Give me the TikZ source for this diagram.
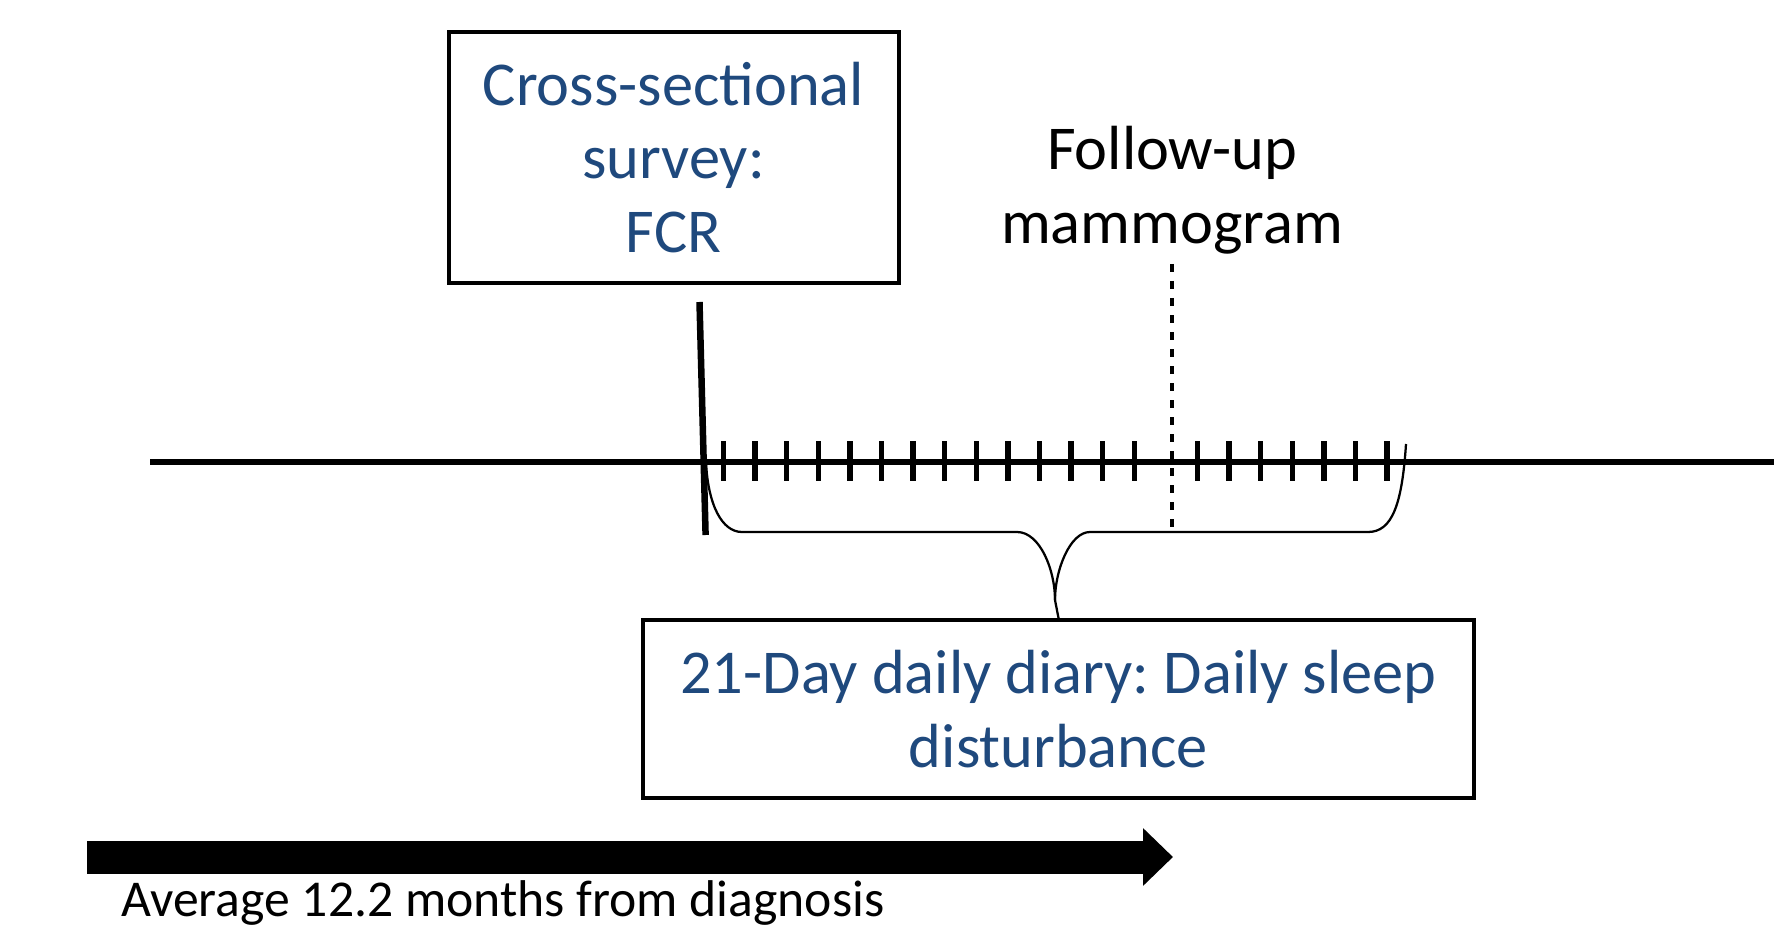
\documentclass[tikz,border=0pt]{standalone}
\usepackage{fontspec}
\setmainfont{Carlito}
\usetikzlibrary{arrows.meta}
\definecolor{textblue}{RGB}{31,73,125}
\frenchspacing

\begin{document}
\begin{tikzpicture}[x=0.2mm, y=-0.2mm,
  box/.style={rectangle, draw, line width=0.8mm, align=center, text=textblue, inner sep=0pt, font=\fontsize{35.5}{42}\selectfont},
  note/.style={align=center, inner sep=0pt, font=\fontsize{35.5}{42}\selectfont},
  timeline/.style={line width=1.3mm},
  daytick/.style={line width=1.1mm},
  visit/.style={line width=0.9mm, dash pattern=on 1.6mm off 1.8mm},
  brace/.style={line width=0.45mm, line join=round},
  timearrow/.style={line width=6.6mm, -{Triangle[length=6mm, width=11.2mm]}},
]

\useasboundingbox (0,0) rectangle (1774,941);

% === Boxes ===
\node[box, minimum width=90mm, minimum height=50.2mm] (survey) at (673.5,157.5) {%
  Cross-sectional\\survey:\\FCR};
\node[box, minimum width=166.2mm, minimum height=35.6mm] (diary) at (1058.5,709) {%
  21-Day daily diary: Daily sleep\\disturbance};
\node[note] (mammo) at (1172,190) {Follow-up\\mammogram};

% === Timeline ===
\draw[timeline] (150,462) -- (1774,462);
\draw[timeline] (699.5,302) -- (705.6,535);
\foreach \d in {0,...,13,15,16,...,21}
  \draw[daytick] ({723.5+31.6*\d},441) -- ++(0,40);
\draw[visit] (1172,264) -- (1172,527);

% === Brace ===
\draw[brace] (706,462) .. controls (708,505) and (722,532) .. (742,532) -- (1017,532)
  .. controls (1040,532) and (1055,570) .. (1055,600) -- (diary.north);
\draw[brace] (1055,600) .. controls (1055,570) and (1070,532) .. (1090,532) -- (1368,532)
  .. controls (1392,532) and (1402,505) .. (1406,444);

% === Time since diagnosis ===
\coordinate (start) at (87,857);
\coordinate (end) at (1173,857);
\draw[timearrow] (start) -- (end);
\node[anchor=base west, inner sep=0pt, font=\fontsize{29.4}{35}\selectfont] (avg) at (121,916) {Average 12.2 months from diagnosis};

\end{tikzpicture}
\end{document}
